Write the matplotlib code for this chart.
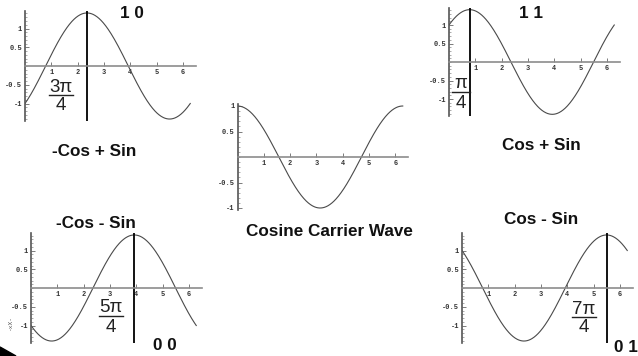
import numpy as np
import matplotlib

matplotlib.use("Agg")
import matplotlib.pyplot as plt
from matplotlib.lines import Line2D
from matplotlib.patches import Polygon
from matplotlib.ticker import FixedLocator, MultipleLocator

# each panel plots a*cos(x) + b*sin(x) over one period
panel_names = ["-Cos + Sin", "Cos + Sin", "Cosine Carrier Wave", "-Cos - Sin", "Cos - Sin"]
cos_coef = [-1, 1, 1, -1, 1]
sin_coef = [1, 1, 0, -1, -1]
bit_labels = ["1 0", "1 1", None, "0 0", "0 1"]
peak_quarters = [3, 1, None, 5, 7]  # peak phase in units of pi/4

x_ticks = [1, 2, 3, 4, 5, 6]
y_ticks = [-1, -0.5, 0.5, 1]
y_tick_text = ["-1", "-0.5", "0.5", "1"]

W, H = 638, 356

# origin (px), y scale (px/unit), y limit, name centre, bits centre, fraction centre x / numerator y
layout = [
    dict(origin=(25, 66), uy=37.5, ylim=1.46, name=(94, 152), bits=(132, 14), frac=(61, 87)),
    dict(origin=(449, 62), uy=37.0, ylim=1.47, name=(541, 146), bits=(531, 14), frac=(461, 84)),
    dict(origin=(237.5, 157), uy=51.0, ylim=1.04, name=(329, 231), bits=None, frac=None),
    dict(origin=(31, 288), uy=37.5, ylim=1.46, name=(96, 224), bits=(165, 346), frac=(111, 308)),
    dict(origin=(462, 288), uy=37.5, ylim=1.46, name=(541, 220), bits=(626, 348), frac=(584, 309)),
]
UX = 26.3
XMAX = 6.5

fig = plt.figure(figsize=(W / 100, H / 100), dpi=100)
fig.patch.set_facecolor("white")


def ftext(x, y, s, **kw):
    fig.text(x / W, 1 - y / H, s, ha="center", va="center", **kw)


bold = dict(family="Liberation Sans", weight="bold", fontsize=12.3, color="#111111")
frac_font = dict(family="Liberation Sans", fontsize=13.5, color="#222222")

t = np.linspace(0, 2 * np.pi, 400)
for i, lay in enumerate(layout):
    x0, y0 = lay["origin"]
    uy, ylim = lay["uy"], lay["ylim"]
    left = x0 / W
    width = XMAX * UX / W
    bottom = 1 - (y0 + ylim * uy) / H
    height = 2 * ylim * uy / H
    ax = fig.add_axes([left, bottom, width, height])
    ax.set_xlim(0, XMAX)
    ax.set_ylim(-ylim, ylim)
    ax.patch.set_alpha(0)

    y = cos_coef[i] * np.cos(t) + sin_coef[i] * np.sin(t)
    ax.plot(t, y, color="#4a4a4a", lw=0.8)

    for side in ("top", "right"):
        ax.spines[side].set_visible(False)
    ax.spines["bottom"].set_position(("data", 0))
    ax.spines["left"].set_position(("data", 0))
    ax.spines["bottom"].set_color("#8c8c8c")
    ax.spines["left"].set_color("#555555")
    ax.spines["bottom"].set_linewidth(1.2)
    ax.spines["left"].set_linewidth(1.2)

    ax.xaxis.set_major_locator(FixedLocator(x_ticks))
    ax.yaxis.set_major_locator(FixedLocator(y_ticks))
    ax.set_yticklabels(y_tick_text)
    ax.yaxis.set_minor_locator(MultipleLocator(0.1))
    ax.tick_params(which="major", length=3, width=0.6, color="#666666", direction="in",
                   labelsize=5, labelcolor="#333333", pad=2)
    ax.tick_params(which="minor", length=1.5, width=0.5, color="#888888", direction="in")
    for lab in ax.get_xticklabels() + ax.get_yticklabels():
        lab.set_family("Liberation Mono")
        lab.set_weight("bold")

    ftext(*lay["name"], panel_names[i], **bold)

    if peak_quarters[i] is not None:
        k = peak_quarters[i]
        ax.axvline(k * np.pi / 4, color="black", lw=1.3)
        fx, fy = lay["frac"]
        num = "π" if k == 1 else f"{k}π"
        ftext(fx, fy, num, **frac_font)
        ftext(fx, fy + 19, "4", **frac_font)
        half = 12 if k != 1 else 9
        fig.add_artist(Line2D([(fx - half) / W, (fx + half) / W],
                              [1 - (fy + 8) / H, 1 - (fy + 8) / H],
                              color="#222222", lw=1.0))
        ftext(*lay["bits"], bit_labels[i], **bold)

# small artefacts in the lower-left corner
fig.text(10 / W, 1 - 323 / H, "-xX-", rotation=90, fontsize=4.5, color="#555555",
         ha="center", va="center", family="Liberation Mono")
fig.add_artist(Polygon([(0, 0), (0, 9 / H), (16 / W, 0)], closed=True,
                       transform=fig.transFigure, color="black"))

fig.savefig("out.png", dpi=100, facecolor="white")
